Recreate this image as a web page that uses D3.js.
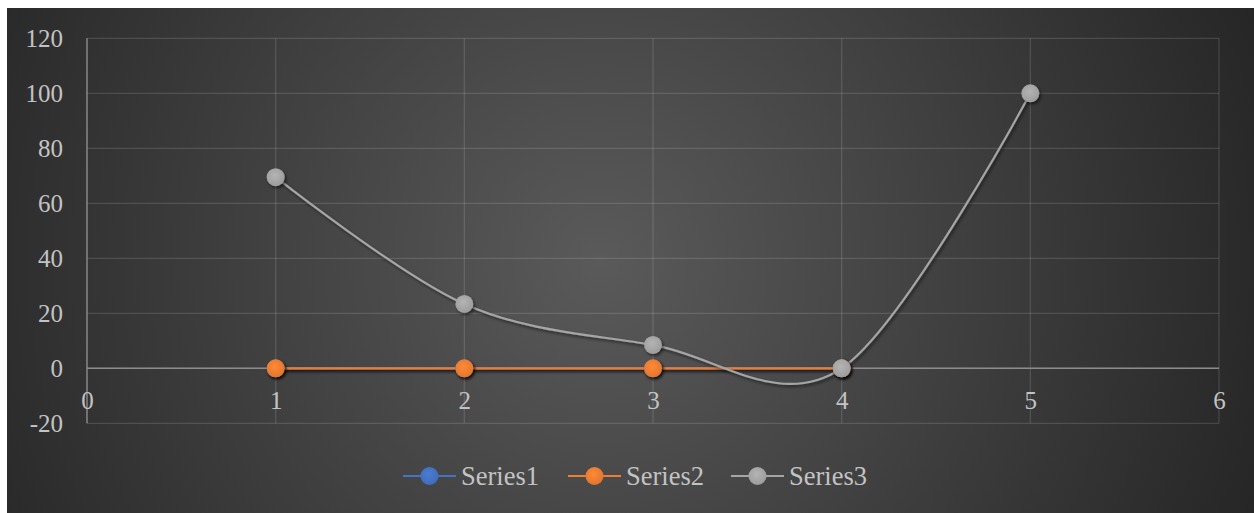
<!DOCTYPE html>
<html>
<head>
<meta charset="utf-8">
<script src="https://cdn.jsdelivr.net/npm/d3@7/dist/d3.min.js"></script>
<style>
  html, body { margin: 0; padding: 0; background: #ffffff; }
  svg { display: block; }
</style>
</head>
<body>
<svg id="chart" width="1254" height="513"></svg>
<script>
// ---- data ----
const seriesNames = ["Series1", "Series2", "Series3"];
const seriesColors = ["#4472C4", "#ED7D31", "#A5A5A5"];
const series1X = [1, 2, 3, 4];
const series1Y = [0, 0, 0, 0];
const series2X = [1, 2, 3, 4];
const series2Y = [0, 0, 0, 0];
const series3X = [1, 2, 3, 4, 5];
const series3Y = [69.5, 23.4, 8.5, 0, 100];
const xTicks = [0, 1, 2, 3, 4, 5, 6];
const yTicks = [-20, 0, 20, 40, 60, 80, 100, 120];

const series = [
  { name: seriesNames[0], color: seriesColors[0], pts: series1X.map((x, i) => ({ x, y: series1Y[i] })) },
  { name: seriesNames[1], color: seriesColors[1], pts: series2X.map((x, i) => ({ x, y: series2Y[i] })) },
  { name: seriesNames[2], color: seriesColors[2], pts: series3X.map((x, i) => ({ x, y: series3Y[i] })) }
];

const svg = d3.select("#chart");
const defs = svg.append("defs");

// background gradient
const bg = defs.append("radialGradient").attr("id", "bgGrad")
  .attr("gradientUnits", "userSpaceOnUse")
  .attr("cx", 600).attr("cy", 260).attr("r", 700);
bg.append("stop").attr("offset", "0%").attr("stop-color", "#5a5a5a");
bg.append("stop").attr("offset", "100%").attr("stop-color", "#262626");

// shadow filter (user space region so flat lines still render)
const f = defs.append("filter").attr("id", "shadow")
  .attr("filterUnits", "userSpaceOnUse")
  .attr("x", 0).attr("y", 0).attr("width", 1254).attr("height", 513);
f.append("feDropShadow").attr("dx", 1.5).attr("dy", 2).attr("stdDeviation", 1.8)
  .attr("flood-color", "#000").attr("flood-opacity", 0.55);

// marker gradients
series.forEach((s, i) => {
  const g = defs.append("radialGradient").attr("id", "mk" + i)
    .attr("cx", "45%").attr("cy", "40%").attr("r", "60%");
  g.append("stop").attr("offset", "0%").attr("stop-color", d3.color(s.color).brighter(0.25));
  g.append("stop").attr("offset", "100%").attr("stop-color", d3.color(s.color).darker(0.15));
});

svg.append("rect").attr("x", 7).attr("y", 8).attr("width", 1247).attr("height", 505)
  .attr("fill", "url(#bgGrad)");

const x = d3.scaleLinear().domain([0, 6]).range([87, 1219]);
const y = d3.scaleLinear().domain([-20, 120]).range([423.3, 38.3]);

const textColor = "#c3c3c3";
const font = "Liberation Serif";
const fsize = "25px";

// gridlines
const grid = svg.append("g");
grid.selectAll(".hg").data(yTicks).join("line")
  .attr("x1", x(0)).attr("x2", x(6))
  .attr("y1", d => y(d)).attr("y2", d => y(d))
  .attr("stroke", "#ffffff").attr("stroke-opacity", 0.13).attr("stroke-width", 1.3);
grid.selectAll(".vg").data(xTicks).join("line")
  .attr("y1", y(-20)).attr("y2", y(120))
  .attr("x1", d => x(d)).attr("x2", d => x(d))
  .attr("stroke", "#ffffff").attr("stroke-opacity", 0.13).attr("stroke-width", 1.3);

// axis lines
svg.append("line").attr("x1", x(0)).attr("x2", x(0)).attr("y1", y(-20)).attr("y2", y(120))
  .attr("stroke", "#8c8c8c").attr("stroke-width", 1.3);
svg.append("line").attr("x1", x(0)).attr("x2", x(6)).attr("y1", y(0)).attr("y2", y(0))
  .attr("stroke", "#8c8c8c").attr("stroke-width", 1.5);

// axes labels via d3 axis
const yAxis = svg.append("g").attr("transform", `translate(${x(0) - 24},0)`)
  .call(d3.axisLeft(y).tickValues(yTicks).tickSize(0).tickPadding(0).tickFormat(d => String(d)));
yAxis.select(".domain").remove();
yAxis.selectAll("text").attr("fill", textColor).style("font-family", font).style("font-size", fsize)
  .attr("dy", "0.34em");

const xAxis = svg.append("g").attr("transform", `translate(0,${y(0)})`)
  .call(d3.axisBottom(x).tickValues(xTicks).tickSize(0).tickPadding(0).tickFormat(d => String(d)));
xAxis.select(".domain").remove();
xAxis.selectAll("text").attr("fill", textColor).style("font-family", font).style("font-size", fsize)
  .attr("y", 0).attr("dy", "1.62em");

// lines
const lineGen = d3.line().x(d => x(d.x)).y(d => y(d.y)).curve(d3.curveCardinal.tension(0));
const plot = svg.append("g");
series.forEach((s, i) => {
  plot.append("path").datum(s.pts).attr("d", lineGen)
    .attr("fill", "none").attr("stroke", s.color).attr("stroke-width", 2.2)
    .attr("filter", "url(#shadow)");
});
series.forEach((s, i) => {
  plot.selectAll(".m" + i).data(s.pts).join("circle")
    .attr("cx", d => x(d.x)).attr("cy", d => y(d.y)).attr("r", 9)
    .attr("fill", `url(#mk${i})`).attr("filter", "url(#shadow)");
});

// legend
const legendX = [403, 568, 731];
const ly = 476;
const leg = svg.append("g");
series.forEach((s, i) => {
  const g = leg.append("g").attr("transform", `translate(${legendX[i]},${ly})`);
  g.append("line").attr("x1", 0).attr("x2", 53).attr("y1", 0).attr("y2", 0)
    .attr("stroke", s.color).attr("stroke-width", 2.2);
  g.append("circle").attr("cx", 26.5).attr("cy", 0).attr("r", 9).attr("fill", `url(#mk${i})`);
  g.append("text").attr("x", 58).attr("y", 0).attr("dy", "0.34em")
    .attr("fill", textColor).style("font-family", font).style("font-size", "26.5px")
    .text(s.name);
});
</script>
</body>
</html>
